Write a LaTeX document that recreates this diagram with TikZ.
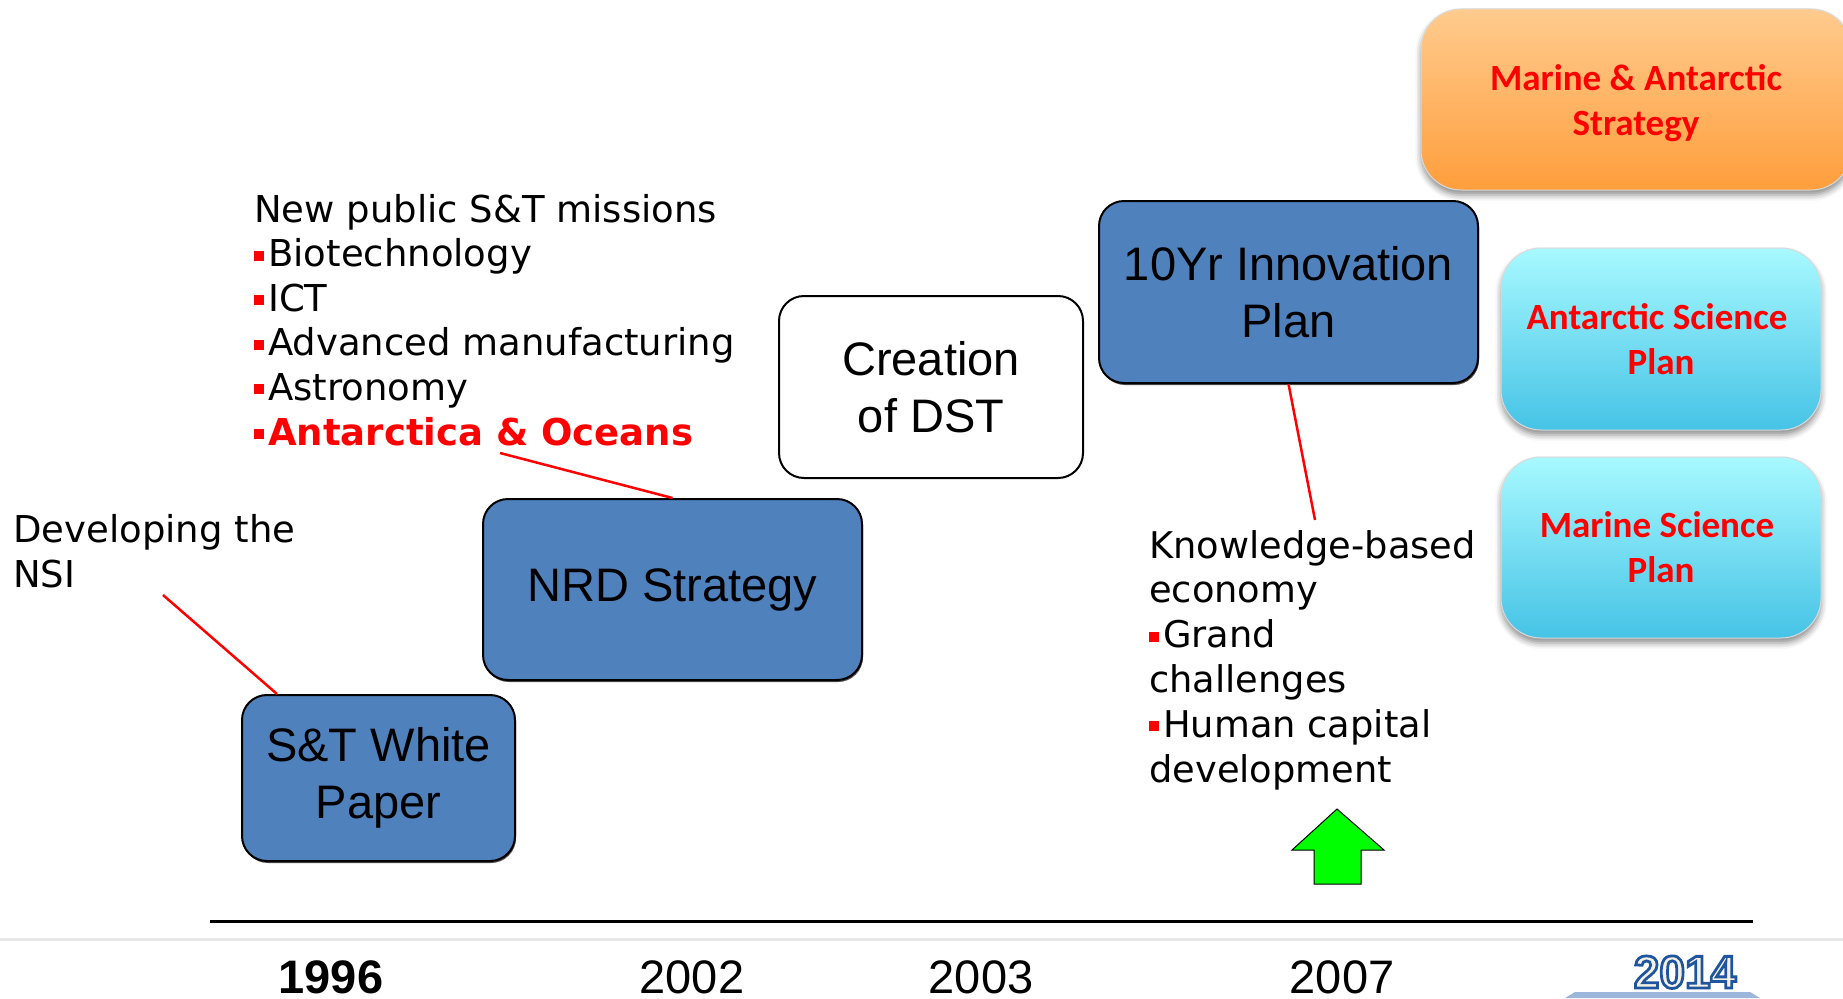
\documentclass[tikz,border=0pt]{standalone}
\usepackage{fontspec}
\usetikzlibrary{shadows,shadows.blur,calc}
\setmainfont{DejaVu Sans}
\newfontfamily\arialf{Liberation Sans}
\newfontfamily\verd{DejaVu Sans}
\newfontfamily\calib{Carlito}
\newfontfamily\yrfont[FakeBold=6]{Liberation Sans Bold}
\definecolor{boxblue}{HTML}{4F81BD}
\definecolor{oraTop}{HTML}{FFCB8E}
\definecolor{oraBot}{HTML}{FF9E3C}
\definecolor{cyaTop}{HTML}{A8F9FF}
\definecolor{cyaBot}{HTML}{46C3E6}
\definecolor{yrfill}{HTML}{F4F1E4}
\definecolor{footgray}{HTML}{E8E8E8}
\definecolor{logoblue}{HTML}{9DB7DC}
\newcommand{\rbul}{\textcolor{red}{\rule[6pt]{10pt}{10pt}}\hspace{4pt}}
\tikzset{
  bluebox/.style={draw=black, line width=2pt, fill=boxblue, rounded corners=25pt,
    font=\arialf\fontsize{47}{57}\selectfont, align=center, inner sep=0pt,
    drop shadow={shadow xshift=1pt, shadow yshift=-2pt, opacity=0.7, fill=black}},
  whitebox/.style={draw=black, line width=2pt, fill=white, rounded corners=25pt,
    font=\arialf\fontsize{47}{57}\selectfont, align=center, inner sep=0pt},
  glossbox/.style={rounded corners=40pt, draw=white!85!black, line width=1pt,
    blur shadow={shadow xshift=0pt, shadow yshift=-5pt, shadow blur radius=6pt, shadow opacity=45},
    font=\calib\bfseries\fontsize{37}{45}\selectfont, text=red, align=center, inner sep=0pt},
  cyanbox/.style={glossbox, top color=cyaTop, bottom color=cyaBot},
  orangebox/.style={glossbox, top color=oraTop, bottom color=oraBot},
  sidetext/.style={font=\verd\fontsize{37}{44.6}\selectfont, align=left, inner sep=0pt, anchor=base west},
  leader/.style={draw=red, line width=2.5pt},
  year/.style={font=\arialf\fontsize{47}{57}\selectfont, inner sep=0pt, anchor=base},
}
\begin{document}
\begin{tikzpicture}[x=1pt,y=-1pt]
\useasboundingbox (0,0) rectangle (1843,998);
\clip (0,0) rectangle (1843,998);

% footer band and timeline
\draw[footgray, line width=3pt] (0,939) -- (1843,939);
\coordinate (tlA) at (210,921);
\coordinate (tlB) at (1753,921);
\draw[black, line width=3pt] (tlA) -- (tlB);

% boxes
\node[bluebox, minimum width=273pt, minimum height=166pt] (wp) at (378.5,778) {S\&T White\\Paper};
\node[bluebox, minimum width=379pt, minimum height=181pt] (nrd) at (672.5,589.5) {NRD Strategy};
\node[whitebox, minimum width=304pt, minimum height=182pt] (dst) at (931,387) {Creation\\of DST};
\node[bluebox, minimum width=379pt, minimum height=182pt] (tenyr) at (1288.5,292) {10Yr Innovation\\Plan};
\node[orangebox, minimum width=430pt, minimum height=181pt,
  label={[font=\calib\bfseries\fontsize{37}{45}\selectfont, text=red, align=center, inner sep=0pt, yshift=-4pt]center:Marine \& Antarctic\\Strategy}] (mas) at (1636,99.5) {};
\node[cyanbox, minimum width=320pt, minimum height=182pt] (asp) at (1661,339) {Antarctic Science\hspace*{8pt}\\Plan};
\node[cyanbox, minimum width=320pt, minimum height=181pt] (msp) at (1661,547.5) {Marine Science\hspace*{8pt}\\Plan};

% side texts (anchored at the baseline of their last line)
\node[sidetext] (nsi) at (13,587) {Developing the\\NSI};
\node[sidetext] (missions) at (254,445) {New public S\&T missions\\
\rbul Biotechnology\\
\rbul ICT\\
\rbul Advanced manufacturing\\
\rbul Astronomy\\
\rbul\textcolor{red}{\bfseries Antarctica \& Oceans}};
\node[sidetext, font=\verd\fontsize{36.8}{44.8}\selectfont] (know) at (1149,782) {Knowledge-based\\economy\\
\rbul Grand\\challenges\\
\rbul Human capital\\development};

% leader lines
\coordinate (nsiTail) at (163,595);
\coordinate (oceTail) at (500,453);
\coordinate (knowTop) at (1315,520);
\draw[leader] (nsiTail) -- ($(wp.north west)+(36,0)$);
\draw[leader] (oceTail) -- (nrd.north);
\draw[leader] (tenyr.south) -- (knowTop);

% green arrow
\draw[fill=green, draw=black, line width=1pt]
  (1337,809) -- (1384,850) -- (1361,850) -- (1361,884) -- (1314,884) -- (1314,850) -- (1292,850) -- cycle;

% years
\node[year, font=\arialf\bfseries\fontsize{47}{57}\selectfont] (y1996) at (331,993) {1996};
\node[year] (y2002) at (692,993) {2002};
\node[year] (y2003) at (981,993) {2003};
\node[year] (y2007) at (1342,993) {2007};
\fill[logoblue] (1575,992) -- (1750,992) -- (1760,998) -- (1565,998) -- cycle;
\node[year, font=\yrfont\fontsize{46}{50}\selectfont] (y2014) at (1685,988)
  {\color{yrfill}\special{pdf:code 0.122 0.333 0.624 RG}2014};
\end{tikzpicture}
\end{document}
